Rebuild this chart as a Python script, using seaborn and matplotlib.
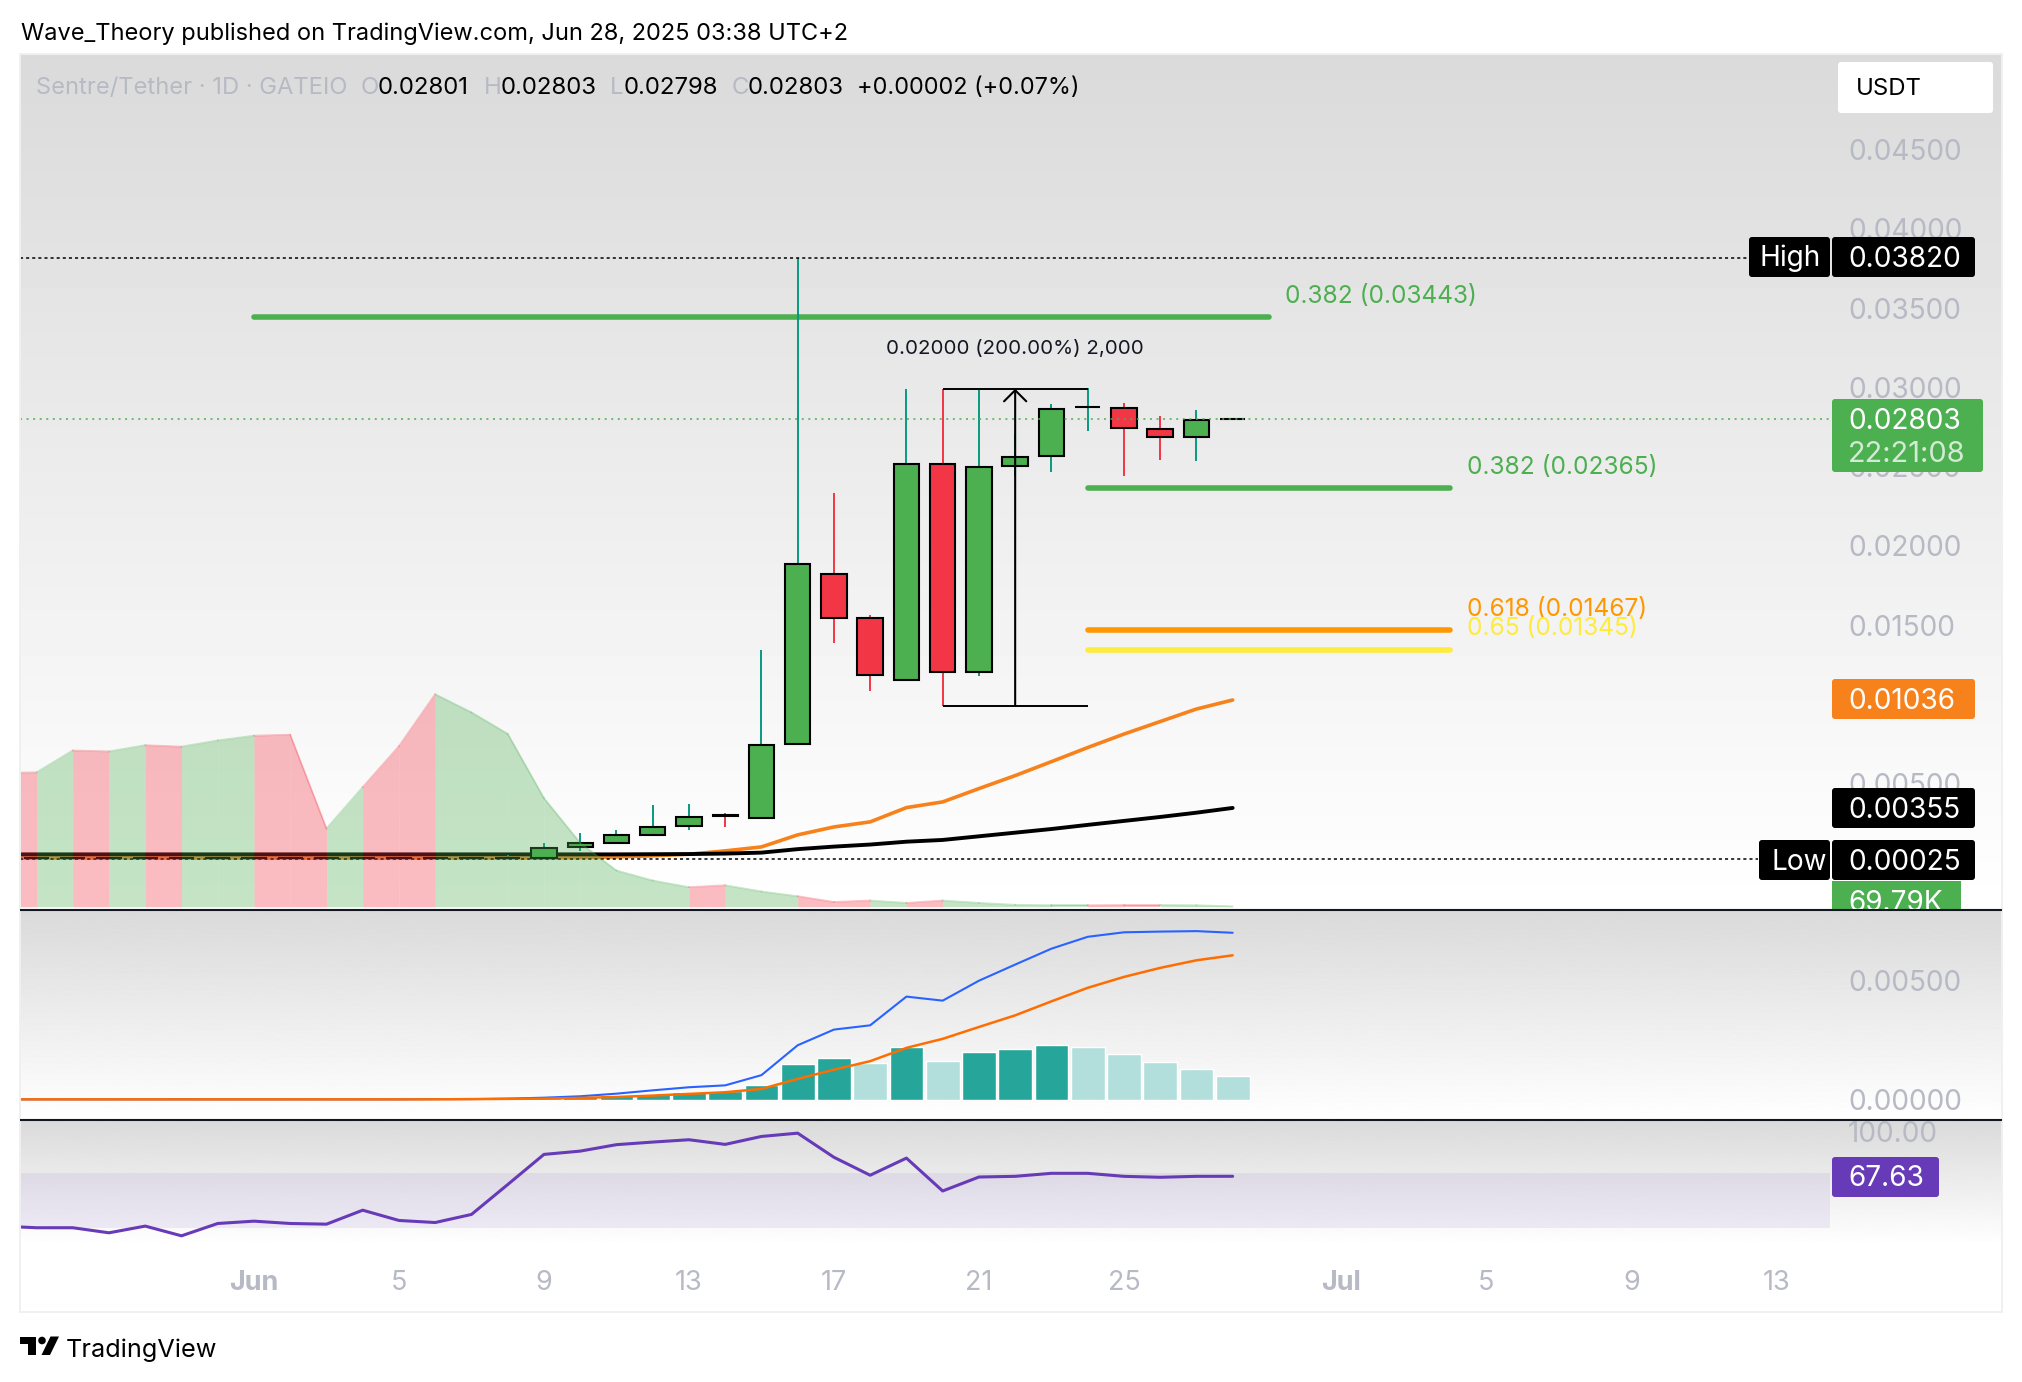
"""
Sentre/Tether daily chart, TradingView look: candles, fib levels, volume, MACD, RSI
"""

# ── Imports ──────────────────────────────────────────────────────────
import numpy as np
import matplotlib
matplotlib.use("Agg")
import matplotlib.pyplot as plt
from matplotlib.patches import FancyBboxPatch, Polygon, Circle, Rectangle
import seaborn as sns

# ── Data ─────────────────────────────────────────────────────────────
# day number counted from Jun 1 = 1 (so 0 is May 31, 31 is Jul 1)
days = list(range(-6, 29))

opens = [.00029, .00029, .00028, .00029, .00028, .00029, .00028, .00028, .00029, .00029,
         .00028, .00029, .00029, .00028, .00028, .00033, .00099, .00125, .00176, .00232,
         .00300, .00285, .00750, .01825, .01544, .01155, .02520, .01205, .02505, .02567,
         .02879, .02873, .02740, .02688, .02801]
highs = [.00030, .00030, .00030, .00030, .00030, .00030, .00030, .00030, .00030, .00030,
         .00030, .00030, .00030, .00030, .00048, .00125, .00187, .00207, .00365, .00372,
         .00315, .01344, .03820, .02334, .01565, .02991, .02991, .02991, .02707, .02895,
         .02996, .02900, .02820, .02858, .02803]
lows = [.00027, .00027, .00027, .00027, .00027, .00027, .00027, .00027, .00027, .00027,
        .00027, .00027, .00027, .00027, .00028, .00030, .00076, .00125, .00176, .00207,
        .00227, .00285, .00750, .01388, .01085, .01155, .00990, .01180, .02442, .02469,
        .02726, .02442, .02543, .02536, .02798]
closes = [.00028, .00028, .00029, .00028, .00029, .00028, .00029, .00029, .00028, .00028,
          .00029, .00028, .00028, .00029, .00030, .00097, .00124, .00175, .00229, .00292,
          .00297, .00744, .01888, .01544, .01185, .02520, .01205, .02500, .02564, .02866,
          .02879, .02744, .02687, .02795, .02803]

ema_fast = [.00031, .00031, .00031, .00031, .00031, .00031, .00031, .00031, .00031, .00031,
            .00031, .00031, .00031, .00031, .00031, .00031, .00033, .00038, .00045, .00055,
            .00076, .00101, .00177, .00227, .00259, .00349, .00385, .00469, .00551, .00639,
            .00728, .00813, .00892, .00971, .01028]
ema_slow = [.00054, .00054, .00054, .00054, .00054, .00054, .00054, .00054, .00054, .00054,
            .00054, .00054, .00054, .00054, .00054, .00054, .00054, .00054, .00055, .00056,
            .00059, .00065, .00087, .00103, .00116, .00134, .00145, .00168, .00191, .00214,
            .00240, .00265, .00290, .00317, .00347]

volume_m = [28.1, 28.2, 32.8, 32.6, 33.9, 33.6, 34.9, 35.9, 36.1, 16.4,
            25.1, 33.7, 44.6, 40.8, 36.3, 22.8, 13.4, 7.6, 5.5, 4.1,
            4.5, 3.2, 2.2, 1.0, 1.3, .8, 1.3, .8, .4, .3,
            .3, .35, .35, .3, .07]

macd_line = [.00001, .00001, .00001, .00001, .00001, .00001, .00001, .00001, .00001, .00001,
             .00001, .00001, .00002, .00002, .00004, .00008, .00014, .00025, .00039, .00052,
             .00060, .00103, .00229, .00295, .00313, .00434, .00417, .00501, .00569, .00636,
             .00686, .00705, .00708, .00710, .00703]
macd_signal = [.00001, .00001, .00001, .00001, .00001, .00001, .00001, .00001, .00001, .00001,
               .00001, .00001, .00001, .00002, .00003, .00004, .00007, .00011, .00017, .00024,
               .00031, .00045, .00087, .00126, .00162, .00218, .00256, .00306, .00355, .00414,
               .00471, .00517, .00555, .00587, .00608]
macd_hist = [.00007, .00007, .00007, .00007, .00007, .00010, .00007, .00007, .00007, .00008,
             .00008, .00007, .00007, .00008, .00008, .00008, .00014, .00021, .00025, .00032,
             .00035, .00063, .00152, .00177, .00156, .00223, .00164, .00202, .00215, .00228,
             .00223, .00194, .00160, .00131, .00101]
hist_colors = ["#FFCDD2"] * 5 + ["#FF5252"] + ["#FFCDD2"] * 3 + ["#26A69A"] * 2 + ["#B2DFDB"] * 2 \
    + ["#26A69A"] * 11 + ["#B2DFDB", "#26A69A", "#B2DFDB", "#26A69A", "#26A69A", "#26A69A"] \
    + ["#B2DFDB"] * 5

rsi = [31.3, 30.1, 30.1, 26.4, 31.3, 24.2, 33.2, 34.9, 33.2, 32.7,
       42.9, 35.4, 33.9, 39.8, 61.6, 83.6, 86.0, 90.7, 92.6, 94.3,
       90.9, 96.7, 99.1, 81.5, 68.4, 80.9, 56.9, 67.1, 67.6, 69.8,
       69.8, 67.6, 66.9, 67.6, 67.63]

# fib levels: start day, end day, price, colour, label
fib_levels = [
    (1, 29, .03443, "#4CAF50", "0.382 (0.03443)"),
    (24, 34, .02365, "#4CAF50", "0.382 (0.02365)"),
    (24, 34, .01467, "#FF9800", "0.618 (0.01467)"),
    (24, 34, .01345, "#FFEB3B", "0.65 (0.01345)"),
]

price_ticks = [.005, .010, .015, .020, .025, .030, .035, .040, .045]
macd_ticks = [0, .005]
rsi_ticks = [100]
date_ticks = [1, 5, 9, 13, 17, 21, 25, 31, 35, 39, 43]
date_labels = ["Jun", "5", "9", "13", "17", "21", "25", "Jul", "5", "9", "13"]

last_price = .02803
high_price = .03820
low_price = .00025
range_top = .02992
range_bottom = .00990

# ── Style ────────────────────────────────────────────────────────────
sns.set_theme(style="white")
plt.rcParams["font.family"] = ["Inter", "DejaVu Sans"]

GREEN = "#4CAF50"
RED = "#F23645"
TEAL = "#089981"
GREY = "#B7BAC4"
W, H = 2022, 1382


def px(size):
    return size * 72 / 100


fig = plt.figure(figsize=(W / 100, H / 100), dpi=100, facecolor="white")


def pane(top, bottom, right=1830, left=20):
    ax = fig.add_axes([left / W, 1 - bottom / H, (right - left) / W, (bottom - top) / H])
    ax.set_facecolor("none")
    sns.despine(ax=ax, left=True, bottom=True, right=True, top=True)
    return ax


# ── Backdrop (gradients per pane) ────────────────────────────────────
back = fig.add_axes([0, 0, 1, 1], zorder=-1)
back.axis("off")
for top, bottom in [(54, 910), (910, 1120), (1120, 1245)]:
    grad = np.linspace(0, 1, 256).reshape(-1, 1)
    back.imshow(grad, extent=(20, 2002, bottom, top), cmap="gray", vmin=-5.9, vmax=1,
                aspect="auto", interpolation="bilinear")
back.set_xlim(0, W)
back.set_ylim(H, 0)

# ── Price pane ───────────────────────────────────────────────────────
XLIM = (-5.455, 44.48)
ax = pane(54, 910)

vol_ax = ax.twinx()
vol_ax.set_ylim(-.69, 179)
vol_ax.axis("off")
for i in range(1, len(days)):
    up = closes[i] >= opens[i]
    col = GREEN if up else RED
    vol_ax.fill_between(days[i - 1:i + 1], 0, volume_m[i - 1:i + 1], color=col, alpha=.33, lw=0)
    vol_ax.plot(days[i - 1:i + 1], volume_m[i - 1:i + 1], color=col, alpha=.3, lw=1.3)
vol_ax.set_xlim(*XLIM)

sns.lineplot(x=days, y=ema_fast, color="#F7821B", lw=2.6, errorbar=None, ax=ax, zorder=4,
             solid_capstyle="round")
sns.lineplot(x=days, y=ema_slow, color="black", lw=2.8, errorbar=None, ax=ax, zorder=4,
             solid_capstyle="round")

for start, end, price, colour, _ in fib_levels:
    ax.plot([start, end], [price, price], color=colour, lw=4.0, zorder=3, solid_capstyle="round")

# candles (the flat ones before Jun 9 only show as a black dash)
for d, o, h, l, c in zip(days, opens, highs, lows, closes):
    up = c >= o
    if h - l > .0001:
        ax.vlines(d, l, h, color=TEAL if up else RED, lw=1.4, zorder=5)
    face = "black" if abs(c - o) < .00005 else (GREEN if up else RED)
    ax.bar(d, abs(c - o), bottom=min(o, c), width=.7, color=face,
           edgecolor="black", linewidth=1.5, zorder=6)

# price range tool
ax.hlines([range_top, range_bottom], 20, 24, color="black", lw=1.4, zorder=7)
ax.annotate("", xy=(22, range_top), xytext=(22, range_bottom), zorder=7,
            arrowprops=dict(arrowstyle="->,head_length=.5,head_width=.5", mutation_scale=16,
                            color="black", lw=1.5, shrinkA=0, shrinkB=0))
ax.text(22, .03245, "0.02000 (200.00%) 2,000", ha="center", va="center",
        fontsize=px(20.5), color="#131722", zorder=7)

# high / low / last price markers
ax.hlines(high_price, XLIM[0], 42.24, color="black", lw=1.1, linestyle=(0, (2, 2)), zorder=7)
ax.hlines(low_price, XLIM[0], 42.5, color="black", lw=1.1, linestyle=(0, (2, 2)), zorder=7)
ax.hlines(last_price, XLIM[0], XLIM[1], color=GREEN, lw=1.1, linestyle=(0, (1.3, 3)), zorder=8)

ax.set_xlim(*XLIM)
ax.set_ylim(-.00297, .05104)
ax.set_xticks([])
ax.yaxis.tick_right()
ax.set_yticks(price_ticks)
ax.set_yticklabels([f"{t:.5f}" for t in price_ticks])
ax.tick_params(axis="y", length=0, pad=px(18), labelsize=px(28), labelcolor=GREY)

# fib labels
fib_label_pos = [(29.45, .03576), (34.46, .02498), (34.46, .01598), (34.46, .01478)]
for (xp, yp), (_, _, _, colour, label) in zip(fib_label_pos, fib_levels):
    ax.text(xp, yp, label, color=colour, fontsize=px(24.5), va="center", zorder=9)

# ── MACD pane ────────────────────────────────────────────────────────
ax_macd = pane(910, 1120)
sns.barplot(x=days, y=macd_hist, hue=hist_colors, palette={c: c for c in set(hist_colors)},
            native_scale=True, dodge=False, legend=False, width=.93, ax=ax_macd, zorder=2,
            saturation=1, errorbar=None)
sns.lineplot(x=days, y=macd_line, color="#2962FF", lw=1.5, errorbar=None, ax=ax_macd, zorder=3)
sns.lineplot(x=days, y=macd_signal, color="#FF6D00", lw=1.8, errorbar=None, ax=ax_macd, zorder=4)
ax_macd.set_xlim(*XLIM)
ax_macd.set_ylim(-.00086, .00799)
ax_macd.set(xlabel=None, ylabel=None)
ax_macd.set_xticks([])
ax_macd.yaxis.tick_right()
ax_macd.set_yticks(macd_ticks)
ax_macd.set_yticklabels([f"{t:.5f}" for t in macd_ticks])
ax_macd.tick_params(axis="y", length=0, pad=px(18), labelsize=px(28), labelcolor=GREY)

# ── RSI pane ─────────────────────────────────────────────────────────
ax_rsi = pane(1120, 1245)
ax_rsi.axhspan(30, 70, color="#7E57C2", alpha=.1, lw=0, zorder=1)
sns.lineplot(x=days, y=rsi, color="#673AB7", lw=2.2, errorbar=None, ax=ax_rsi, zorder=3)
ax_rsi.set_xlim(*XLIM)
ax_rsi.set_ylim(17.5, 108.7)
ax_rsi.yaxis.tick_right()
ax_rsi.set_yticks(rsi_ticks)
ax_rsi.set_yticklabels([f"{t:.2f}" for t in rsi_ticks])
ax_rsi.tick_params(axis="y", length=0, pad=px(18), labelsize=px(28), labelcolor=GREY)
ax_rsi.set_xticks(date_ticks)
ax_rsi.set_xticklabels(date_labels)
ax_rsi.tick_params(axis="x", length=0, pad=px(25), labelsize=px(27), labelcolor=GREY)
for lab in ax_rsi.get_xticklabels():
    if lab.get_text() in ("Jun", "Jul"):
        lab.set_fontweight("bold")

# ── Overlay: header, tags, separators, logo (in figure pixels) ───────
top = fig.add_axes([0, 0, 1, 1], zorder=20)
top.set_xlim(0, W)
top.set_ylim(H, 0)
top.axis("off")
top.patch.set_alpha(0)

top.add_patch(Rectangle((20, 54), 1982, 1258, fill=False, edgecolor="#F0F0F0", lw=1.4))
top.plot([20, 2002], [910, 910], color="#131722", lw=1.5, solid_capstyle="butt")
top.plot([20, 2002], [1120, 1120], color="#131722", lw=1.5, solid_capstyle="butt")


def label(x, y, text, color="black", size=23, **kw):
    return top.text(x, y + 2.5, text, color=color, fontsize=px(size), va="center", **kw)


def tag(x0, x1, y0, y1, color):
    top.add_patch(FancyBboxPatch((x0, y0), x1 - x0, y1 - y0, facecolor=color, edgecolor="none",
                                 boxstyle="round,pad=0,rounding_size=3"))


label(21, 31, "Wave_Theory published on TradingView.com, Jun 28, 2025 03:38 UTC+2", size=23.6)

label(36, 85, "Sentre/Tether · 1D · GATEIO", color=GREY, size=23.7)
for x_letter, letter, x_val, val in [(361, "O", 378, "0.02801"), (484, "H", 501, "0.02803"),
                                     (610, "L", 624, "0.02798"), (732, "C", 748, "0.02803")]:
    label(x_letter, 85, letter, color=GREY, size=24)
    label(x_val, 85, val, size=24)
label(857, 85, "+0.00002 (+0.07%)", size=23.5)

tag(1838, 1993, 62, 113, "white")
label(1856, 86.5, "USDT", size=24)

# High
tag(1749, 1830, 237, 277, "black")
label(1760, 256, "High", color="white", size=28)
tag(1832, 1975, 237, 277, "black")
label(1848, 256.5, "0.03820", color="white", size=28)
# last price + countdown
tag(1832, 1983, 399, 472, GREEN)
label(1848, 418.5, "0.02803", color="white", size=28)
label(1848, 451.5, "22:21:08", color="#D3EBD4", size=29)
# EMAs
tag(1832, 1975, 679, 719, "#F7821B")
label(1848, 698.5, "0.01036", color="white", size=28)
tag(1832, 1975, 788, 828, "black")
label(1848, 807.5, "0.00355", color="white", size=28)
# Low
tag(1759, 1830, 840, 880, "black")
label(1771, 859.5, "Low", color="white", size=28)
tag(1832, 1975, 840, 880, "black")
label(1848, 859.5, "0.00025", color="white", size=28)
# volume tag is cut by the pane border
clip = Rectangle((1832, 880), 130, 29, transform=top.transData)
top.add_patch(Rectangle((1832, 881), 129, 28, facecolor=GREEN, edgecolor="none"))
vol_txt = label(1848, 901, "69.79K", color="white", size=28)
vol_txt.set_clip_path(clip)
vol_txt.set_clip_on(True)
# RSI
tag(1832, 1939, 1157, 1197, "#673AB7")
label(1848, 1176.5, "67.63", color="white", size=28)

# logo
top.add_patch(Polygon([(20, 1336.5), (36, 1336.5), (36, 1355), (28.3, 1355), (28.3, 1344), (20, 1344)],
                      facecolor="black", edgecolor="none"))
top.add_patch(Circle((42, 1340.5), 3.8, facecolor="black", edgecolor="none"))
top.add_patch(Polygon([(50.5, 1336.5), (59, 1336.5), (50, 1355), (41.5, 1355)],
                      facecolor="black", edgecolor="none"))
label(66, 1347.5, "TradingView", size=25.3)

fig.savefig("out.png", dpi=100)
